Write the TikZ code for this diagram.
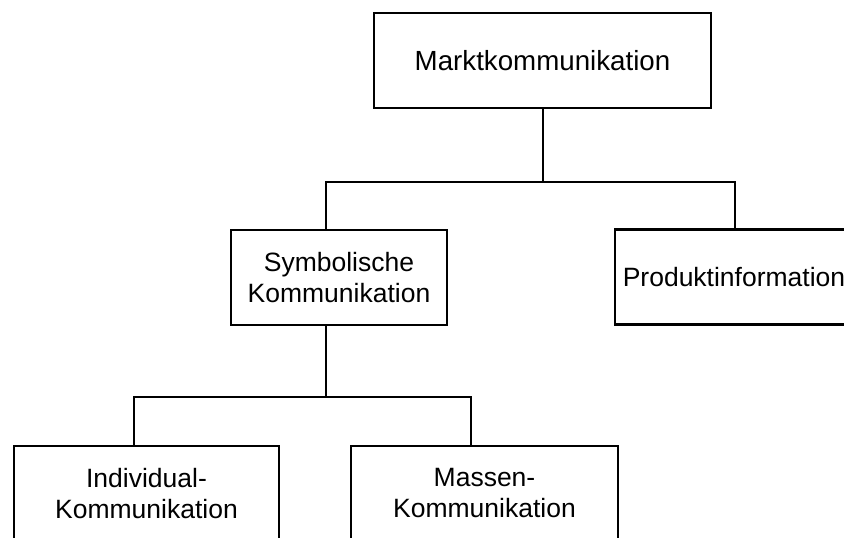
\documentclass[tikz,border=0pt]{standalone}
\usepackage{fontspec}
\setmainfont{Liberation Sans}
\tikzset{
  kbox/.style={draw, line width=2.3pt, minimum height=95pt, inner sep=2pt, align=center,
    font=\fontsize{26.5}{31}\selectfont},
  link/.style={line width=2pt}
}
\begin{document}
\begin{tikzpicture}[x=1pt, y=-1pt]
\useasboundingbox (0,0) rectangle (844,538);
\clip (0,0) rectangle (844,538);
% boxes
\node[kbox, minimum width=337pt, font=\fontsize{27.7}{31}\selectfont] (markt) at (542.5,60.5) {Marktkommunikation};
\node[kbox, minimum width=216pt] (sym) at (339,277.5) {Symbolische\\Kommunikation};
\node[kbox, minimum width=238pt] (prod) at (734,277) {Produktinformation};
\node[kbox, minimum width=265pt] (ind) at (146.5,493.5) {Individual-\\Kommunikation};
\node[kbox, minimum width=267pt] (mass) at (484.5,493.5) {Massen-\\Kommunikation};
% connectors
\coordinate (j1) at (326,182);
\coordinate (j2) at (735,182);
\coordinate (j3) at (134,397);
\coordinate (j4) at (471,397);
\draw[link] (markt.south) -- (markt.south |- j1);
\draw[link] (sym.north -| j1) -- (j1) -- (j2) -- (prod.north -| j2);
\draw[link] (sym.south -| j1) -- (j1 |- j3);
\draw[link] (ind.north -| j3) -- (j3) -- (j4) -- (mass.north -| j4);
\end{tikzpicture}
\end{document}
